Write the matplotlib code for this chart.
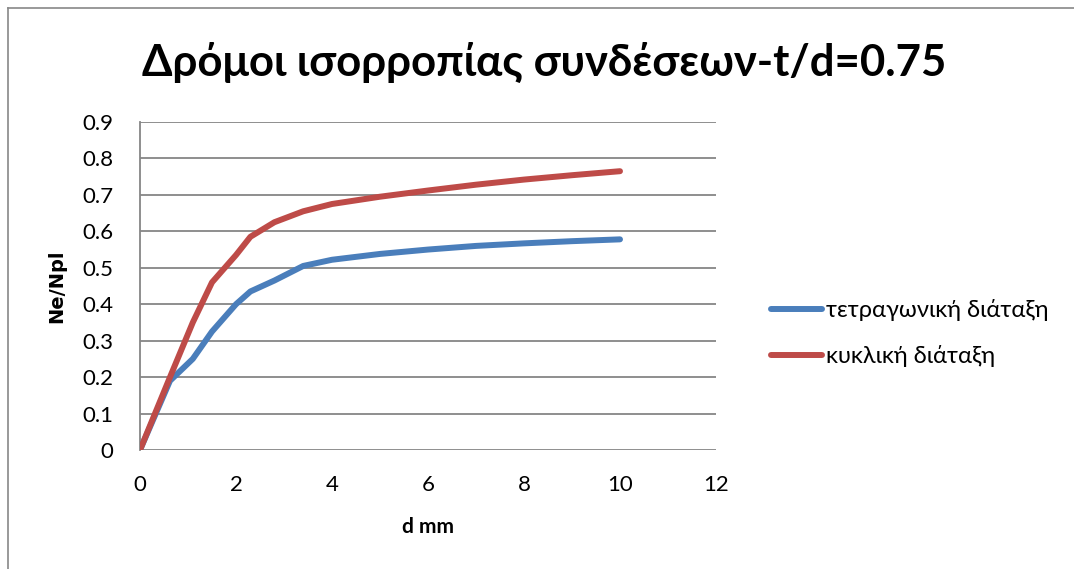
import matplotlib
matplotlib.use("Agg")
import matplotlib.pyplot as plt
from matplotlib.lines import Line2D

plt.rcParams['font.family'] = ['Lato', 'DejaVu Sans']

# Data
d_mm = [0, 0.625, 1.1, 1.5, 2.0, 2.3, 2.8, 3.4, 4, 5, 6, 7, 8, 9, 10]
square_layout = [0, 0.19, 0.25, 0.325, 0.40, 0.435, 0.465, 0.505, 0.522,
                 0.538, 0.55, 0.56, 0.567, 0.573, 0.578]
circular_layout = [0, 0.20, 0.35, 0.46, 0.535, 0.585, 0.625, 0.655, 0.675,
                   0.695, 0.712, 0.728, 0.742, 0.754, 0.765]
labels = ['τετραγωνική διάταξη', 'κυκλική διάταξη']
x_ticks = [0, 2, 4, 6, 8, 10, 12]
y_ticks = [0, 0.1, 0.2, 0.3, 0.4, 0.5, 0.6, 0.7, 0.8, 0.9]
title = 'Δρόμοι ισορροπίας συνδέσεων-t/d=0.75'

W, H = 1074, 569
fig = plt.figure(figsize=(W / 100, H / 100), dpi=100)
ax = fig.add_axes([140 / W, 1 - 450 / H, (716 - 140) / W, (450 - 122) / H])

blue = '#4A7EBB'
red = '#BE4B48'
grid_c = '#868686'

ax.plot(d_mm, square_layout, color=blue, lw=4.3, solid_capstyle='round',
        solid_joinstyle='round', zorder=3)
ax.plot(d_mm, circular_layout, color=red, lw=4.3, solid_capstyle='round',
        solid_joinstyle='round', zorder=3)

ax.set_xlim(0, 12)
ax.set_ylim(0, 0.9)
ax.set_xticks(x_ticks)
ax.set_yticks(y_ticks)
ax.set_xticklabels([str(v) for v in x_ticks])
ax.set_yticklabels(['0'] + [f'{v:.1f}' for v in y_ticks[1:]])
ax.tick_params(axis='both', length=0, labelsize=16, colors='black')
ax.tick_params(axis='x', pad=18)
ax.tick_params(axis='y', pad=19)
ax.yaxis.grid(True, color=grid_c, lw=1.3)
ax.set_axisbelow(True)
for s in ['top', 'right', 'bottom']:
    ax.spines[s].set_visible(False)
ax.spines['left'].set_color(grid_c)
ax.spines['left'].set_linewidth(1.3)

ax.set_xlabel('d mm', fontsize=15, fontweight='bold', labelpad=16)
ax.set_ylabel('Ne/Npl', fontsize=14, fontweight='bold', labelpad=12,
              family=['DejaVu Sans'])

fig.text(544 / W, 1 - 62 / H, title, fontsize=31.5, fontweight='bold',
         ha='center', va='center')

handles = [Line2D([], [], color=blue, lw=4.3, solid_capstyle='round'),
           Line2D([], [], color=red, lw=4.3, solid_capstyle='round')]
fig.legend(handles, labels, loc='center left',
           bbox_to_anchor=(754 / W, 1 - 333 / H), frameon=False,
           fontsize=17, handlelength=2.2, handletextpad=0.15,
           labelspacing=1.0, borderpad=0.2)

# Chart border
fig.add_artist(Line2D([8 / W, 8 / W], [0, 1 - 8 / H], color='#888888',
                      lw=1.2, transform=fig.transFigure))
fig.add_artist(Line2D([8 / W, 1], [1 - 8 / H, 1 - 8 / H], color='#888888',
                      lw=1.2, transform=fig.transFigure))

fig.savefig('out.png', dpi=100, facecolor='white')
